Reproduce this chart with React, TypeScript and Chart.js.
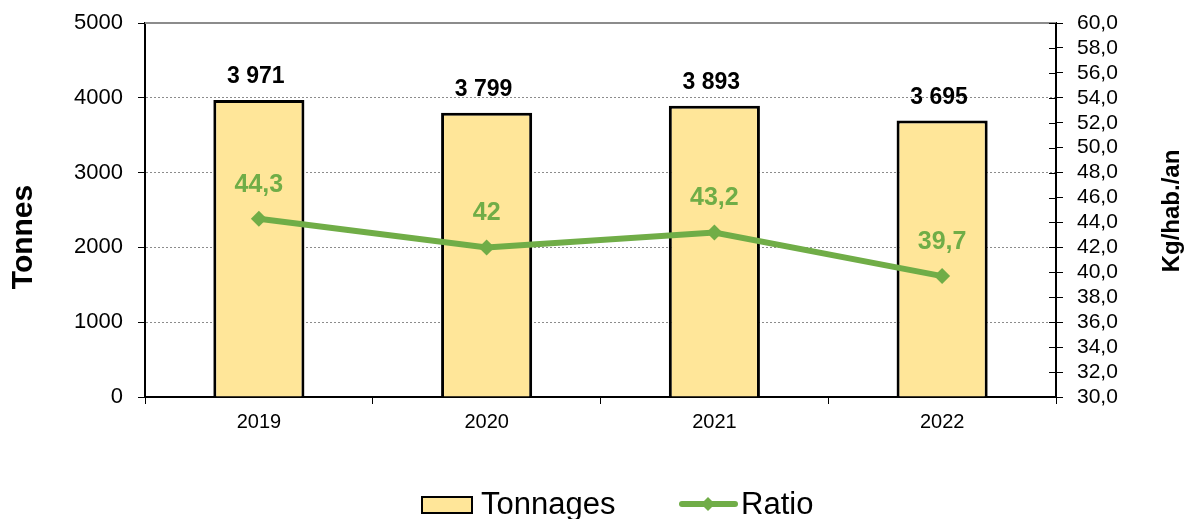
import React, { useEffect, useRef } from "react";
import { Chart, registerables } from "chart.js";

Chart.register(...registerables);

const categories = ["2019", "2020", "2021", "2022"];
const tonnages = [3971, 3799, 3893, 3695];
const ratio = [44.3, 42, 43.2, 39.7];
const tonnageLabels = ["3 971", "3 799", "3 893", "3 695"];
const ratioLabels = ["44,3", "42", "43,2", "39,7"];
const seriesNames = ["Tonnages", "Ratio"];
const leftTitle = "Tonnes";
const rightTitle = "Kg/hab./an";

const FONT = "'Liberation Sans', Arial, sans-serif";
const BAR_FILL = "#FFE699";
const GREEN = "#70AD47";

const decorPlugin = {
  id: "decor",
  afterDatasetsDraw(chart: any) {
    const ctx = chart.ctx;
    const area = chart.chartArea;
    ctx.save();
    // top border line of plot area (solid gray)
    ctx.strokeStyle = "#8c8c8c";
    ctx.lineWidth = 2;
    ctx.beginPath();
    ctx.moveTo(area.left, area.top);
    ctx.lineTo(area.right, area.top);
    ctx.stroke();

    // inner ticks on right axis
    const y1 = chart.scales.y1;
    ctx.strokeStyle = "#000";
    ctx.lineWidth = 1;
    y1.ticks.forEach((t: any) => {
      const py = Math.round(y1.getPixelForValue(t.value)) + 0.5;
      ctx.beginPath();
      ctx.moveTo(area.right - 7, py);
      ctx.lineTo(area.right, py);
      ctx.stroke();
    });

    // bar labels
    const barMeta = chart.getDatasetMeta(0);
    ctx.fillStyle = "#000";
    ctx.font = `bold 23px ${FONT}`;
    ctx.textAlign = "center";
    ctx.textBaseline = "middle";
    barMeta.data.forEach((el: any, i: number) => {
      ctx.fillText(tonnageLabels[i], el.x - 3, el.y - 23);
    });

    // ratio labels
    const lineMeta = chart.getDatasetMeta(1);
    ctx.fillStyle = GREEN;
    ctx.font = `bold 25px ${FONT}`;
    lineMeta.data.forEach((el: any, i: number) => {
      ctx.fillText(ratioLabels[i], el.x, el.y - 34);
    });
    ctx.restore();
  },
  afterDraw(chart: any) {
    const ctx = chart.ctx;
    ctx.save();
    // axis titles
    ctx.fillStyle = "#000";
    ctx.textAlign = "center";
    ctx.textBaseline = "middle";
    ctx.save();
    ctx.translate(24, 237);
    ctx.rotate(-Math.PI / 2);
    ctx.font = `bold 30px ${FONT}`;
    ctx.fillText(leftTitle, 0, 0);
    ctx.restore();
    ctx.save();
    ctx.translate(1172, 211);
    ctx.rotate(-Math.PI / 2);
    ctx.font = `bold 24px ${FONT}`;
    ctx.fillText(rightTitle, 0, 0);
    ctx.restore();

    // legend
    const ds0 = chart.data.datasets[0];
    const ds1 = chart.data.datasets[1];
    ctx.font = `31px ${FONT}`;
    ctx.textAlign = "left";
    ctx.textBaseline = "alphabetic";
    ctx.fillStyle = ds0.backgroundColor;
    ctx.fillRect(422, 497, 50, 16);
    ctx.strokeStyle = "#000";
    ctx.lineWidth = 2;
    ctx.strokeRect(422, 497, 50, 16);
    ctx.fillStyle = "#000";
    ctx.fillText(ds0.label, 481, 514);

    ctx.strokeStyle = ds1.borderColor;
    ctx.lineWidth = 6;
    ctx.lineCap = "round";
    ctx.beginPath();
    ctx.moveTo(682, 504);
    ctx.lineTo(735, 504);
    ctx.stroke();
    ctx.fillStyle = ds1.borderColor;
    ctx.beginPath();
    ctx.moveTo(708, 497);
    ctx.lineTo(715, 504);
    ctx.lineTo(708, 511);
    ctx.lineTo(701, 504);
    ctx.closePath();
    ctx.fill();
    ctx.fillStyle = "#000";
    ctx.fillText(ds1.label, 741, 514);
    ctx.restore();
  },
};

export default function App() {
  const ref = useRef<HTMLCanvasElement | null>(null);
  useEffect(() => {
    if (!ref.current) return;
    const chart = new Chart(ref.current, {
      type: "bar",
      data: {
        labels: categories,
        datasets: [
          {
            type: "bar",
            label: seriesNames[0],
            data: tonnages,
            backgroundColor: BAR_FILL,
            borderColor: "#000",
            borderWidth: 3,
            barPercentage: 0.4,
            categoryPercentage: 1,
            yAxisID: "y",
            order: 1,
          } as any,
          {
            type: "line",
            label: seriesNames[1],
            data: ratio,
            borderColor: GREEN,
            backgroundColor: GREEN,
            borderWidth: 6,
            pointStyle: "rectRot",
            pointRadius: 8,
            pointBackgroundColor: GREEN,
            pointBorderColor: GREEN,
            pointBorderWidth: 0,
            yAxisID: "y1",
            order: 0,
          } as any,
        ],
      },
      options: {
        responsive: false,
        animation: false,
        events: [],
        layout: { padding: { top: 23, left: 0, right: 0, bottom: 0 } },
        plugins: {
          legend: { display: false },
          tooltip: { enabled: false },
          title: { display: false },
        },
        scales: {
          x: {
            grid: {
              offset: true,
              drawOnChartArea: false,
              drawTicks: true,
              tickLength: 7,
              color: "#000",
              lineWidth: 1,
            },
            border: { display: true, color: "#000", width: 2 },
            ticks: { color: "#000", font: { family: FONT, size: 20 }, padding: 6 },
            afterFit(scale: any) {
              scale.height = 122;
              scale.paddingLeft = 0;
              scale.paddingRight = 0;
            },
          },
          y: {
            position: "left",
            min: 0,
            max: 5000,
            ticks: {
              stepSize: 1000,
              color: "#000",
              font: { family: FONT, size: 22 },
              padding: 15,
              callback: (v: any) => String(v),
            },
            grid: {
              color: "#8c8c8c",
              lineWidth: 1,
              tickLength: 7,
              tickColor: "#000",
              tickBorderDash: [],
            },
            border: { display: true, color: "#000", width: 2, dash: [2, 2] },
            afterFit(scale: any) {
              scale.width = 145;
              scale.paddingTop = 0;
              scale.paddingBottom = 0;
            },
          },
          y1: {
            position: "right",
            min: 30,
            max: 60,
            ticks: {
              stepSize: 2,
              autoSkip: false,
              color: "#000",
              font: { family: FONT, size: 21 },
              padding: 14,
              callback: (v: any) => Number(v).toFixed(1).replace(".", ","),
            },
            grid: {
              drawOnChartArea: false,
              tickLength: 7,
              color: "#000",
              lineWidth: 1,
            },
            border: { display: true, color: "#000", width: 2 },
            afterFit(scale: any) {
              scale.width = 137;
              scale.paddingTop = 0;
              scale.paddingBottom = 0;
            },
          },
        },
      } as any,
      plugins: [decorPlugin],
    });
    return () => chart.destroy();
  }, []);
  return (
    <div style={{ position: "absolute", left: 0, top: 0, width: 1193, height: 519, background: "#fff" }}>
      <canvas ref={ref} width={1193} height={519} style={{ display: "block" }} />
    </div>
  );
}
